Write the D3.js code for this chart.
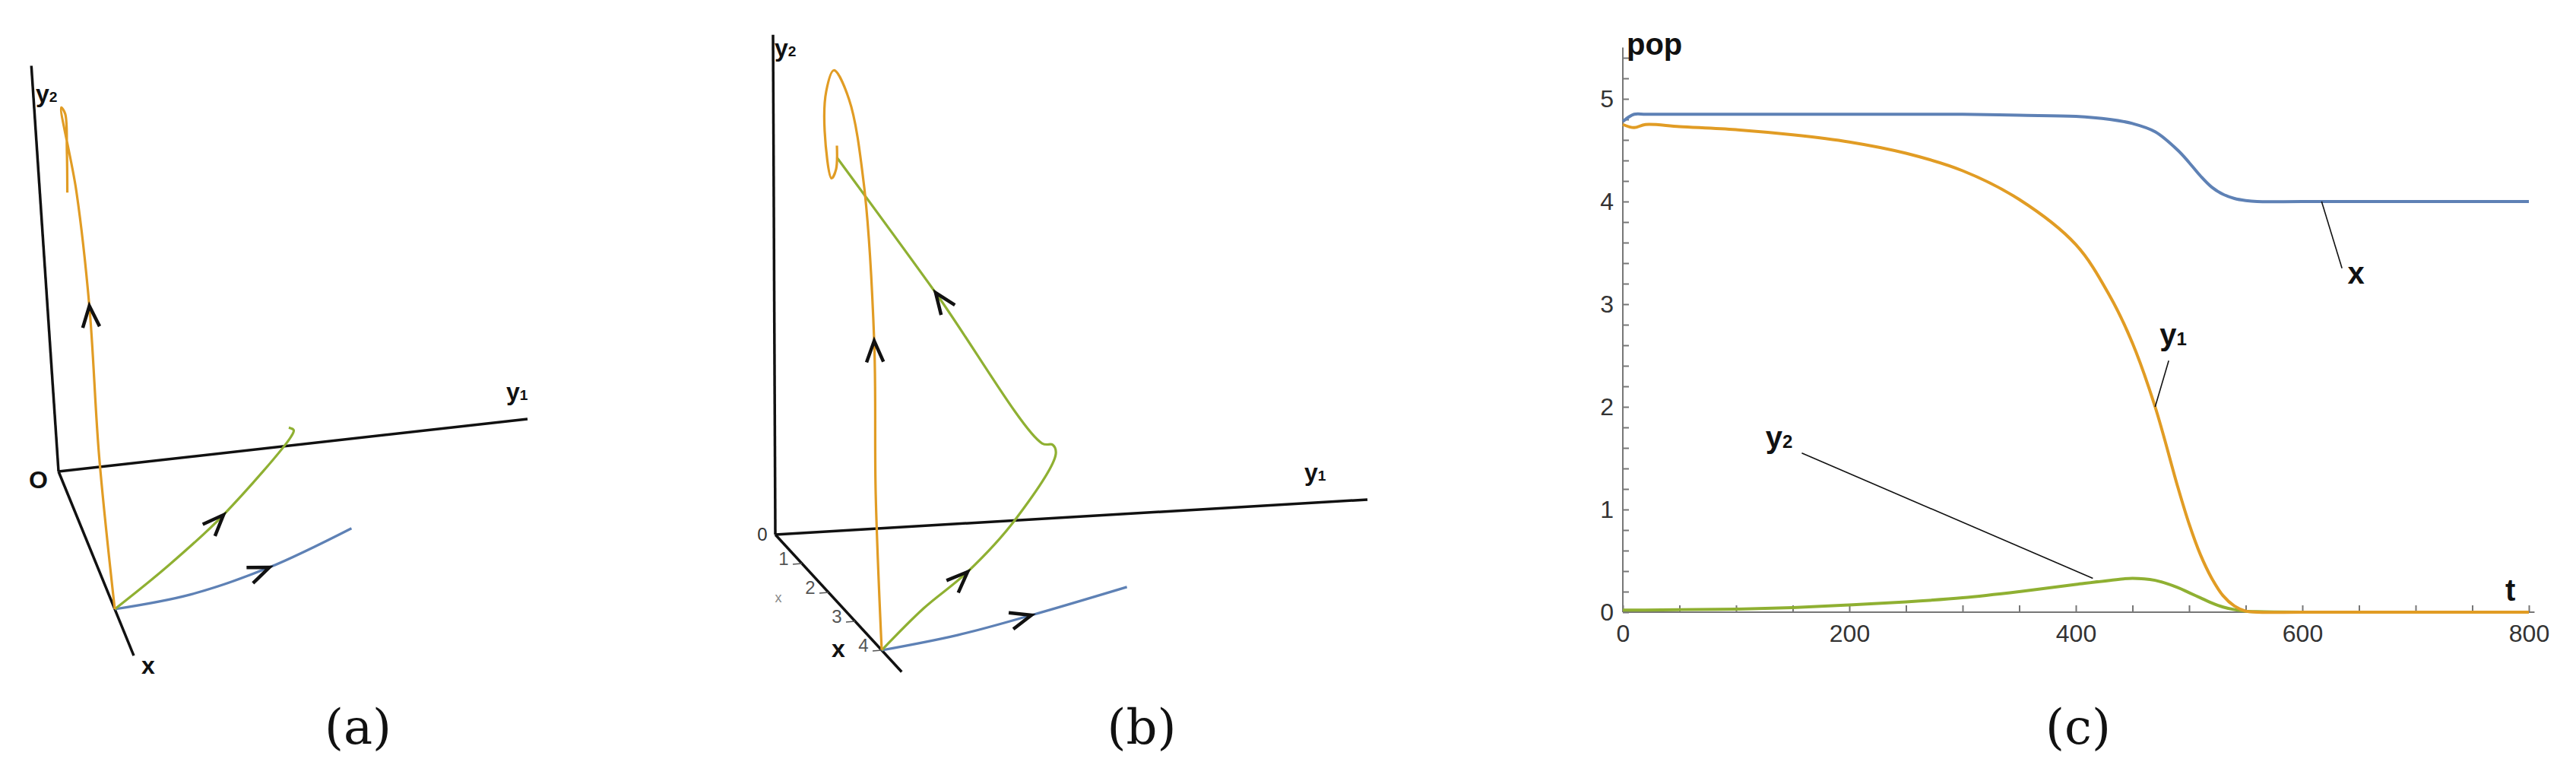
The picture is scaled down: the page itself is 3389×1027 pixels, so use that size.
<!DOCTYPE html>
<html>
<head>
<meta charset="utf-8">
<script src="https://cdn.jsdelivr.net/npm/d3@7"></script>
<style>
  body { margin: 0; background: #fff; }
  svg { display: block; }
</style>
</head>
<body>
<div id="chart"></div>
<script>
// ---- panel (c): time series ----
const tValues = [0, 10, 20, 50, 100, 150, 200, 250, 300, 350, 400, 430, 450, 470, 490, 500, 510, 520, 530, 540, 550, 560, 600, 700, 800];
const xSeries = [4.78, 4.85, 4.85, 4.85, 4.85, 4.85, 4.85, 4.85, 4.85, 4.84, 4.83, 4.8, 4.76, 4.68, 4.5, 4.38, 4.25, 4.14, 4.07, 4.03, 4.01, 4.0, 4.0, 4.0, 4.0];
const y1Series = [4.75, 4.72, 4.75, 4.73, 4.7, 4.65, 4.58, 4.47, 4.3, 4.02, 3.58, 3.08, 2.62, 2.0, 1.22, 0.86, 0.56, 0.33, 0.16, 0.06, 0.01, 0, 0, 0, 0];
const y2Series = [0.02, 0.02, 0.02, 0.025, 0.03, 0.045, 0.07, 0.1, 0.14, 0.2, 0.27, 0.31, 0.33, 0.31, 0.24, 0.19, 0.14, 0.09, 0.05, 0.025, 0.01, 0.005, 0, 0, 0];
const tTicks = [0, 200, 400, 600, 800];
const popTicks = [0, 1, 2, 3, 4, 5];

// ---- panels (a) and (b): trajectories as [x, y1, y2] ----
const trajA = {
  yellow: [[4, 0, 0], [3.3, 0.03, 1.74], [2.6, 0.12, 3.44], [1.9, 0.15, 4.68], [1.5, 0.1, 5.62], [1.4, 0.15, 5.48], [1.35, 0.147, 4.94], [1.3, 0.129, 4.37]],
  green: [[4, 0, 0], [4, 0.585, 0.494], [4, 1.217, 1.105], [4, 1.99, 2.06], [4, 2.02, 2.14], [4, 1.97, 2.18]],
  blue: [[4, 0, 0], [3.83, 0.83, 0], [3.32, 1.75, 0], [2.49, 2.75, 0]]
};
const trajB = {
  yellow: [[4, 0, 0], [3.8, 0, 1.65], [3.5, 0.06, 3.24], [3, 0.09, 4.81], [2.5, 0.08, 5.58], [2, 0.065, 5.74], [1.8, 0.045, 5.45], [1.8, 0.03, 5.01], [1.9, 0.064, 4.52], [2, 0.08, 4.65], [2, 0.088, 4.91]],
  green: [[4, 0, 0], [4, 0.355, 0.433], [4, 0.728, 0.806], [4, 1.134, 1.352], [4, 1.477, 2.045], [4, 1.452, 2.148], [4, 1.362, 2.171], [4, 0.469, 3.897], [4, -0.36, 5.45]],
  blue: [[4, 0, 0], [3.65, 0.72, 0], [3.14, 1.457, 0], [2.4, 2.43, 0]]
};
// arrow positions: [curve, data index]
const arrowsA = [["yellow", 2], ["green", 2], ["blue", 2]];
const arrowsB = [["yellow", 2], ["green", 2], ["green", 7], ["blue", 2]];
const xAxisTicksB = [1, 2, 3, 4];

const colors = { blue: "#5e81b5", yellow: "#e19c24", green: "#8fb032" };

const svg = d3.select("#chart").append("svg")
  .attr("width", 3389).attr("height", 1027);

// oblique projection for the 3D sketches
function projector(o, ex, e1, e2) {
  return (p) => [o[0] + p[0] * ex[0] + p[1] * e1[0] + p[2] * e2[0],
                 o[1] + p[0] * ex[1] + p[1] * e1[1] + p[2] * e2[1]];
}

function drawSketch(g, proj, traj, arrows, axisLen) {
  const line = d3.line().curve(d3.curveCatmullRom.alpha(0.5));
  const axes = [[axisLen[0], 0, 0], [0, axisLen[1], 0], [0, 0, axisLen[2]]];
  axes.forEach((a) => {
    const [x0, y0] = proj([0, 0, 0]);
    const [x1, y1] = proj(a);
    g.append("line").attr("x1", x0).attr("y1", y0).attr("x2", x1).attr("y2", y1)
      .attr("stroke", "#111").attr("stroke-width", 3.5);
  });
  ["blue", "green", "yellow"].forEach((k) => {
    g.append("path").attr("d", line(traj[k].map(proj)))
      .attr("fill", "none").attr("stroke", colors[k]).attr("stroke-width", 3.2);
  });
  arrows.forEach(([k, i]) => {
    const pts = traj[k].map(proj);
    const p = pts[i], a = pts[i - 1], b = pts[i + 1];
    const ang = Math.atan2(b[1] - a[1], b[0] - a[0]);
    const L = 30, w = 0.38;
    const q1 = [p[0] - L * Math.cos(ang - w), p[1] - L * Math.sin(ang - w)];
    const q2 = [p[0] - L * Math.cos(ang + w), p[1] - L * Math.sin(ang + w)];
    g.append("path").attr("d", `M${q1}L${p}L${q2}`)
      .attr("fill", "none").attr("stroke", "#111").attr("stroke-width", 4.5)
      .attr("stroke-linejoin", "miter");
  });
}

function subLabel(g, x, y, main, sub, size) {
  const t = g.append("text").attr("x", x).attr("y", y)
    .attr("font-family", "Liberation Sans, Arial, sans-serif")
    .attr("font-weight", "bold").attr("font-size", size).attr("fill", "#111");
  t.append("tspan").text(main);
  if (sub) t.append("tspan").attr("font-size", size * 0.6).text(sub);
  return t;
}

// ---- panel (a) ----
const gA = svg.append("g");
const projA = projector([77, 620], [18.5, 45.25], [123.4, -13.8], [-6.5, -97]);
drawSketch(gA, projA, trajA, arrowsA, [5.35, 5, 5.5]);
subLabel(gA, 47, 134, "y", "2", 32);
subLabel(gA, 666, 526, "y", "1", 32);
subLabel(gA, 38, 642, "O", null, 32);
subLabel(gA, 186, 886, "x", null, 32);

// ---- panel (b) ----
const gB = svg.append("g");
const projB = projector([1020, 703], [35, 38], [155.8, -9.2], [-0.545, -119.5]);
drawSketch(gB, projB, trajB, arrowsB, [4.75, 5, 5.5]);
xAxisTicksB.forEach((v) => {
  const [px, py] = projB([v, 0, 0]);
  gB.append("line").attr("x1", px).attr("y1", py).attr("x2", px - 12).attr("y2", py + 1)
    .attr("stroke", "#555").attr("stroke-width", 1.5);
  gB.append("text").attr("x", px - 24).attr("y", py + 2)
    .attr("font-family", "Liberation Sans, Arial, sans-serif").attr("font-size", 24)
    .attr("fill", "#555").attr("text-anchor", "middle").text(v);
});
gB.append("text").attr("x", 1003).attr("y", 711).attr("text-anchor", "middle")
  .attr("font-family", "Liberation Sans, Arial, sans-serif").attr("font-size", 24)
  .attr("fill", "#333").text("0");
gB.append("text").attr("x", 1024).attr("y", 792).attr("text-anchor", "middle")
  .attr("font-family", "Liberation Sans, Arial, sans-serif").attr("font-size", 18)
  .attr("fill", "#888").text("x");
subLabel(gB, 1094, 864, "x", null, 32);
subLabel(gB, 1019, 74, "y", "2", 32);
subLabel(gB, 1716, 632, "y", "1", 32);

// ---- panel (c) ----
const gC = svg.append("g");
const xC = d3.scaleLinear().domain([0, 800]).range([2135, 3327]);
const yC = d3.scaleLinear().domain([0, 5]).range([805, 130]);
const yTop = yC(5.5);

gC.append("g").attr("transform", `translate(0,${yC(0)})`)
  .call(d3.axisBottom(xC).tickValues(d3.range(0, 801, 50)).tickSize(-9).tickFormat(""))
  .call((g) => g.select(".domain").attr("d", `M${xC(0)},0H${xC(805)}`))
  .call((g) => g.selectAll("line, path").attr("stroke", "#777").attr("stroke-width", 2));
gC.append("g").attr("transform", `translate(0,${yC(0)})`)
  .call(d3.axisBottom(xC).tickValues(tTicks).tickSize(0).tickPadding(16))
  .call((g) => g.select(".domain").remove())
  .call((g) => g.selectAll("text").attr("font-size", 32).attr("fill", "#333")
    .attr("font-family", "Liberation Sans, Arial, sans-serif"));

gC.append("g").attr("transform", `translate(${xC(0)},0)`)
  .call(d3.axisLeft(yC).tickValues(d3.range(0, 5.41, 0.2)).tickSize(-8).tickFormat(""))
  .call((g) => g.select(".domain").attr("d", `M0,${yC(0)}V${yTop}`))
  .call((g) => g.selectAll("line, path").attr("stroke", "#777").attr("stroke-width", 2));
gC.append("g").attr("transform", `translate(${xC(0)},0)`)
  .call(d3.axisLeft(yC).tickValues(popTicks).tickSize(0).tickPadding(12).tickFormat(d3.format("d")))
  .call((g) => g.select(".domain").remove())
  .call((g) => g.selectAll("text").attr("font-size", 32).attr("fill", "#333")
    .attr("font-family", "Liberation Sans, Arial, sans-serif"));

const lineC = (vals) => d3.line().curve(d3.curveCatmullRom.alpha(0.5))
  .x((d, i) => xC(tValues[i])).y((d) => yC(d))(vals);
[[y2Series, "green"], [y1Series, "yellow"], [xSeries, "blue"]].forEach(([s, k]) => {
  gC.append("path").attr("d", lineC(s)).attr("fill", "none")
    .attr("stroke", colors[k]).attr("stroke-width", 4);
});

// leader lines and series labels
const leaders = [
  { from: [617, 4.0], to: [635, 3.35], lab: [640, 3.2], main: "x", sub: null },
  { from: [470, 2.0], to: [482, 2.45], lab: [474, 2.6], main: "y", sub: "1" },
  { from: [415, 0.33], to: [158, 1.55], lab: [126, 1.6], main: "y", sub: "2" }
];
leaders.forEach((d) => {
  gC.append("line").attr("x1", xC(d.from[0])).attr("y1", yC(d.from[1]))
    .attr("x2", xC(d.to[0])).attr("y2", yC(d.to[1]))
    .attr("stroke", "#111").attr("stroke-width", 1.6);
  subLabel(gC, xC(d.lab[0]), yC(d.lab[1]), d.main, d.sub, 40);
});
subLabel(gC, 2140, 72, "pop", null, 40);
subLabel(gC, 3296, 790, "t", null, 40);

// ---- captions ----
[["(a)", 471], ["(b)", 1502], ["(c)", 2734]].forEach(([s, x]) => {
  svg.append("text").attr("x", x).attr("y", 978).attr("text-anchor", "middle")
    .attr("font-family", "DejaVu Serif, Liberation Serif, serif").attr("font-size", 64)
    .attr("fill", "#111").text(s);
});
</script>
</body>
</html>
